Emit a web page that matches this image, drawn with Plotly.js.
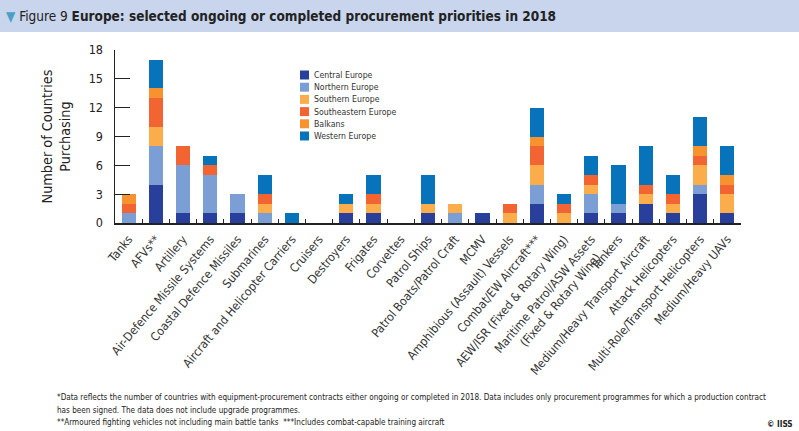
<!DOCTYPE html>
<html>
<head>
<meta charset="utf-8">
<script src="https://cdn.plot.ly/plotly-3.0.1.min.js"></script>
<style>html,body{margin:0;padding:0;background:#fff;}#chart{width:799px;height:431px;}</style>
</head>
<body>
<div id="chart"></div>
<script>
// ---- data ----
const categories = [
  "Tanks", "AFVs**", "Artillery", "Air-Defence Missile Systems", "Coastal Defence Missiles",
  "Submarines", "Aircraft and Helicopter Carriers", "Cruisers", "Destroyers", "Frigates",
  "Corvettes", "Patrol Ships", "Patrol Boats/Patrol Craft", "MCMV", "Amphibious (Assault) Vessels",
  "Combat/EW Aircraft***", "AEW/ISR (Fixed & Rotary Wing)", "Maritime Patrol/ASW Assets<br>(Fixed & Rotary Wing)&nbsp;&nbsp;&nbsp;",
  "Tankers", "Medium/Heavy Transport Aircraft", "Attack Helicopters", "Multi-Role/Transport Helicopters", "Medium/Heavy UAVs"
];
const seriesNames = ["Central Europe", "Northern Europe", "Southern Europe", "Southeastern Europe", "Balkans", "Western Europe"];
const central      = [0,4,1,1,1,0,0,0,1,1,0,1,0,1,0,2,0,1,1,2,1,3,1];
const northern     = [1,4,5,4,2,1,0,0,0,0,0,0,1,0,0,2,0,2,1,0,0,1,0];
const southern     = [0,2,0,0,0,1,0,0,1,1,0,1,1,0,1,2,1,1,0,1,1,2,2];
const southeastern = [1,3,2,1,0,1,0,0,0,1,0,0,0,0,1,2,1,1,0,1,1,1,1];
const balkans      = [1,1,0,0,0,0,0,0,0,0,0,0,0,0,0,1,0,0,0,0,0,1,1];
const western      = [0,3,0,1,0,2,1,0,1,2,0,3,0,0,0,3,1,2,4,4,2,3,3];
const yTicks = [0, 3, 6, 9, 12, 15, 18];

// ---- styles ----
const seriesValues = [central, northern, southern, southeastern, balkans, western];
const colors = ["#283f9b", "#7b9fd4", "#fbad4b", "#f26533", "#f7932f", "#0673ba"];
const FONT = "'Liberation Sans Narrow', 'DejaVu Sans Condensed', 'Arial Narrow', 'Roboto Condensed', 'Liberation Sans', sans-serif";

const L = 115, R = 741, T = 50, B = 223;
const px = x => (x - L) / (R - L);
const py = y => (B - y) / (B - T);

const traces = seriesNames.map((n, i) => ({
  type: "bar", name: n, x: categories, y: seriesValues[i],
  marker: {color: colors[i], line: {width: 0}}, showlegend: false
}));

const shapes = [
  {type: "rect", xref: "paper", yref: "paper", x0: px(0), x1: px(799), y0: py(32), y1: py(0),
   fillcolor: "#c8d5ed", line: {width: 0}, layer: "below"}
];
const annotations = [
  {xref: "paper", yref: "paper", x: px(4), y: py(16), xanchor: "left", yanchor: "middle", showarrow: false,
   text: "<span style='color:#4aa0c2'>▼</span> Figure 9 <b>Europe: selected ongoing or completed procurement priorities in 2018</b>",
   font: {family: FONT, size: 13.5, color: "#222"}},
  {xref: "paper", yref: "paper", x: px(55), y: py(397), xanchor: "left", yanchor: "middle", showarrow: false,
   text: "*Data reflects the number of countries with equipment-procurement contracts either ongoing or completed in 2018. Data includes only procurement programmes for which a production contract",
   font: {family: FONT, size: 8.1, color: "#222"}},
  {xref: "paper", yref: "paper", x: px(55), y: py(410), xanchor: "left", yanchor: "middle", showarrow: false,
   text: "has been signed. The data does not include upgrade programmes.",
   font: {family: FONT, size: 8.1, color: "#222"}},
  {xref: "paper", yref: "paper", x: px(55), y: py(422), xanchor: "left", yanchor: "middle", showarrow: false,
   text: "**Armoured fighting vehicles not including main battle tanks&nbsp;&nbsp;***Includes combat-capable training aircraft",
   font: {family: FONT, size: 8.1, color: "#222"}},
  {xref: "paper", yref: "paper", x: px(795), y: py(424), xanchor: "right", yanchor: "middle", showarrow: false,
   text: "<b>© IISS</b>", font: {family: FONT, size: 8.2, color: "#222"}}
];
// manual compact legend
seriesNames.forEach((n, i) => {
  const cy = 75 + 12.2 * i;
  shapes.push({type: "rect", xref: "paper", yref: "paper", x0: px(300), x1: px(309), y0: py(cy + 4.5), y1: py(cy - 4.5),
    fillcolor: colors[i], line: {width: 0}});
  annotations.push({xref: "paper", yref: "paper", x: px(312), y: py(cy), xanchor: "left", yanchor: "middle",
    showarrow: false, text: n, font: {family: FONT, size: 8.7, color: "#333"}});
});

const layout = {
  width: 799, height: 431,
  margin: {l: L, r: 799 - R, t: T, b: 431 - B, autoexpand: false},
  barmode: "stack", bargap: 0.48,
  paper_bgcolor: "#fff", plot_bgcolor: "#fff",
  font: {family: FONT, color: "#222"},
  showlegend: false,
  xaxis: {
    type: "category", tickangle: -50, tickson: "boundaries", ticks: "inside", ticklen: 4, tickwidth: 1,
    tickcolor: "#222", showline: true, linecolor: "#222", linewidth: 1.5, showgrid: false, zeroline: false,
    tickfont: {family: FONT, size: 12, color: "#333"}, ticklabelstandoff: 3, automargin: false
  },
  yaxis: {
    range: [0, 18], tickvals: yTicks, ticks: "inside", ticklen: 15, tickwidth: 1, tickcolor: "#222",
    showline: true, linecolor: "#222", linewidth: 1.5, showgrid: false, zeroline: false,
    tickfont: {family: FONT, size: 12.5, color: "#222"}, ticklabelstandoff: 8, automargin: false,
    title: {text: "Number of Countries<br>Purchasing", font: {family: FONT, size: 14.3, color: "#222"}, standoff: 14}
  },
  shapes: shapes, annotations: annotations
};

Plotly.newPlot("chart", traces, layout, {displayModeBar: false, staticPlot: true});
</script>
</body>
</html>
